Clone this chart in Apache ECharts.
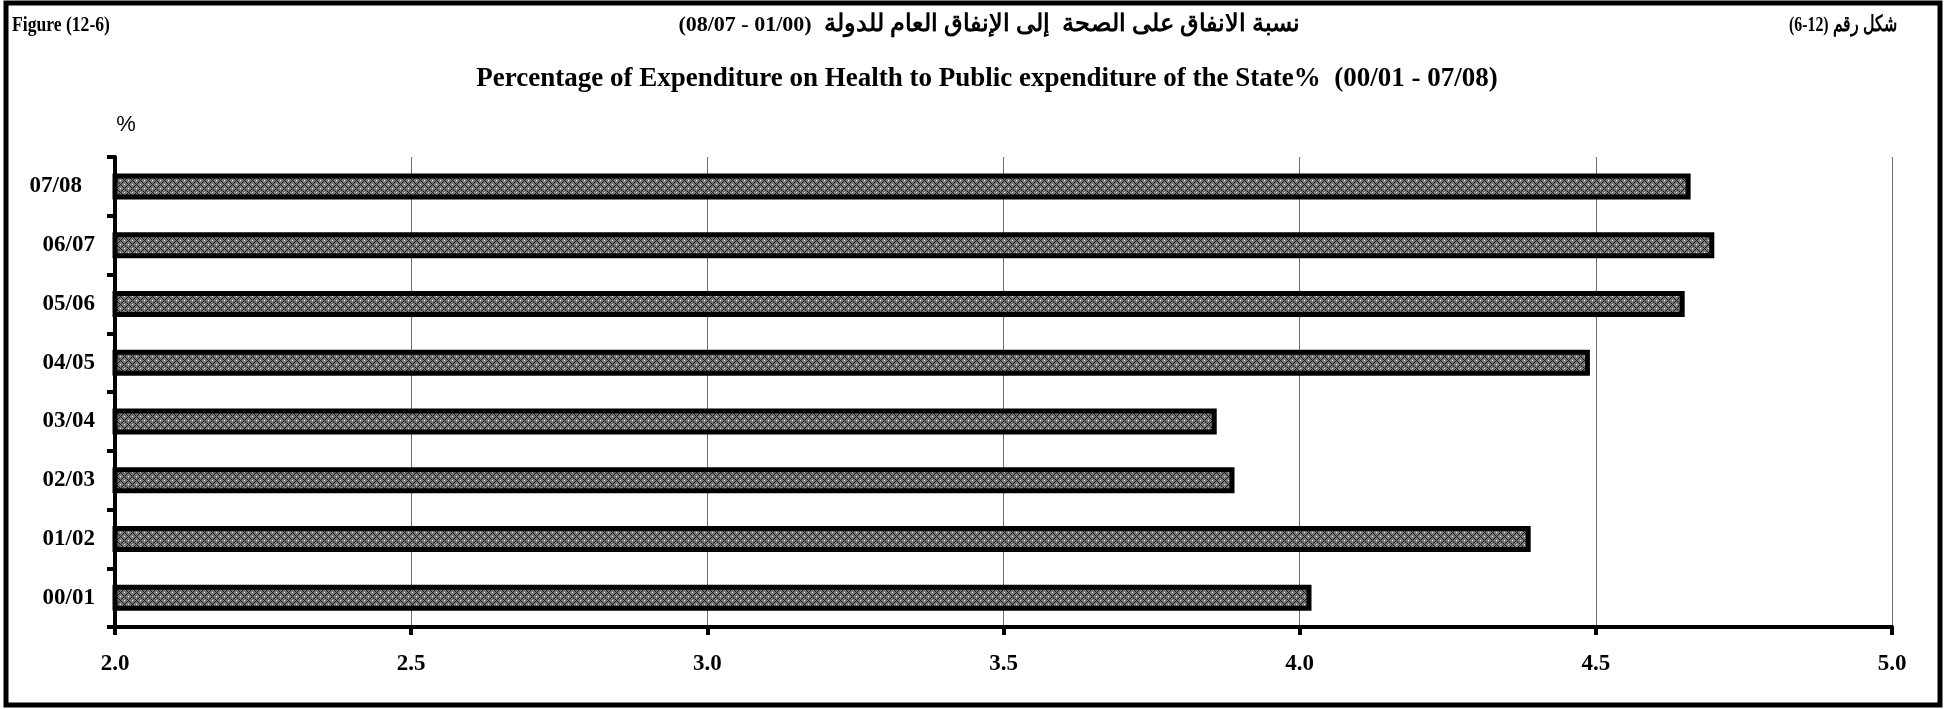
<!DOCTYPE html>
<html>
<head>
<meta charset="utf-8">
<script src="https://cdn.jsdelivr.net/npm/echarts@6/dist/echarts.min.js"></script>
<style>
html,body{margin:0;padding:0;background:#fff;}
#chart{width:1959px;height:709px;}
</style>
</head>
<body>
<div id="chart"></div>
<script>
// ---- data ----
const categories = ['00/01', '01/02', '02/03', '03/04', '04/05', '05/06', '06/07', '07/08'];
const values = [4.02, 4.39, 3.89, 3.86, 4.49, 4.65, 4.70, 4.66];
const xTicks = { min: 2.0, max: 5.0, interval: 0.5 };
const figLabelEn = 'Figure (12-6)';
const figLabelArWords = ' شكل رقم';
const figLabelArNum = '(6-12)';
const titleArNum = '(08/07 - 01/00)';
const titleArText = 'نسبة الانفاق على الصحة  إلى الإنفاق العام للدولة';
const titleEn = 'Percentage of Expenditure on Health to Public expenditure of the State%  (00/01 - 07/08)';
const unitLabel = '%';

// ---- crosshatch pattern ----
function makePattern() {
  const c = document.createElement('canvas');
  c.width = 8; c.height = 8;
  const ctx = c.getContext('2d');
  const img = ctx.createImageData(8, 8);
  for (let y = 0; y < 8; y++) {
    for (let x = 0; x < 8; x++) {
      let v = 120;
      const d1 = (x + y) % 8, d2 = (x - y + 8) % 8;
      if (d1 === 0 || d2 === 0) v = 25;
      if ((x === 4 && y === 0) || (x === 0 && y === 4)) v = 245;
      const i = (y * 8 + x) * 4;
      img.data[i] = v; img.data[i + 1] = v; img.data[i + 2] = v; img.data[i + 3] = 255;
    }
  }
  ctx.putImageData(img, 0, 0);
  return c;
}

const serif = '"Liberation Serif", "Times New Roman", serif';
const chart = echarts.init(document.getElementById('chart'), null, { renderer: 'canvas' });

const yData = categories.map(c => c === '07/08'
  ? { value: c, textStyle: { padding: [0, 13, 0, 0] } }
  : c);

chart.setOption({
  animation: false,
  backgroundColor: '#fff',
  grid: { left: 115, right: 67, top: 157, bottom: 82, containLabel: false },
  xAxis: {
    type: 'value',
    min: xTicks.min, max: xTicks.max, interval: xTicks.interval,
    axisLine: { show: true, lineStyle: { color: '#000', width: 4 } },
    axisTick: { show: true, length: 8, lineStyle: { color: '#000', width: 4 } },
    axisLabel: {
      formatter: v => v.toFixed(1),
      fontFamily: serif, fontWeight: 'bold', fontSize: 23, color: '#000', margin: 26
    },
    splitLine: { show: true, lineStyle: { color: '#6e6e6e', width: 1 } }
  },
  yAxis: {
    type: 'category',
    data: yData,
    axisLine: { show: true, lineStyle: { color: '#000', width: 4 } },
    axisTick: { show: true, length: 8, lineStyle: { color: '#000', width: 4 } },
    axisLabel: {
      fontFamily: serif, fontWeight: 'bold', fontSize: 23, color: '#000', margin: 20
    },
    splitLine: { show: false }
  },
  series: [{
    type: 'bar',
    data: values,
    barWidth: 26,
    itemStyle: {
      color: { image: makePattern(), repeat: 'repeat' },
      borderColor: '#000',
      borderWidth: 5
    }
  }],
  graphic: [
    { type: 'rect', shape: { x: 6, y: 3, width: 1934, height: 702 },
      style: { fill: 'none', stroke: '#000', lineWidth: 5 }, z: 100 },
    { type: 'text', x: 12, y: 25, scaleX: 0.8,
      style: { text: figLabelEn, font: 'bold 22px ' + serif, fill: '#000',
               textAlign: 'left', textVerticalAlign: 'middle' } },
    { type: 'text', x: 1897, y: 25, scaleX: 0.72,
      style: { text: '{a|' + figLabelArNum + '}{b|' + figLabelArWords + '}',
               textAlign: 'right', textVerticalAlign: 'middle',
               rich: {
                 a: { font: 'bold 22px ' + serif, fill: '#000' },
                 b: { font: 'bold 22px ' + serif, fill: '#000' }
               } } },
    { type: 'text', x: 989, y: 25,
      style: { text: '{a|' + titleArNum + '}{b|  ' + titleArText + '}',
               textAlign: 'center', textVerticalAlign: 'middle',
               rich: {
                 a: { font: 'bold 22px ' + serif, fill: '#000' },
                 b: { font: 'bold 24px ' + serif, fill: '#000' }
               } } },
    { type: 'text', x: 987, y: 79,
      style: { text: titleEn, font: 'bold 27px ' + serif, fill: '#000',
               textAlign: 'center', textVerticalAlign: 'middle' } },
    { type: 'text', x: 126, y: 125,
      style: { text: unitLabel, font: '22px "Liberation Sans", Arial, sans-serif', fill: '#000',
               textAlign: 'center', textVerticalAlign: 'middle' } }
  ]
});
</script>
</body>
</html>
